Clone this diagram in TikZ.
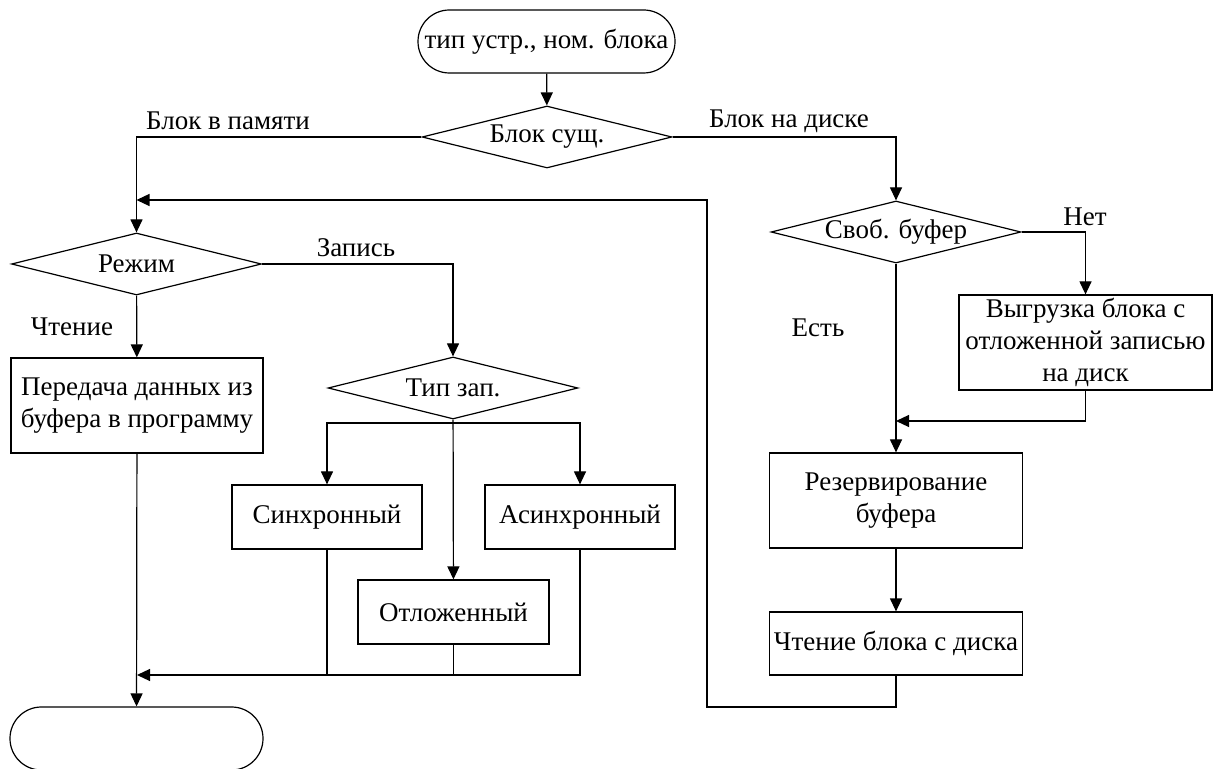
\documentclass[tikz,border=0pt]{standalone}
\usepackage{fontspec}
\setmainfont{Liberation Serif}
\newfontfamily\chartfont{Liberation Serif}
\usetikzlibrary{shapes.geometric,arrows.meta}
\begin{document}
\begin{tikzpicture}[x=0.5pt,y=-0.5pt,line width=0.6pt,
  every node/.style={font=\chartfont\fontsize{13.5}{16}\selectfont},
  term/.style={draw,rounded corners=15.7pt,minimum height=31.5pt,inner sep=0pt},
  cond/.style={draw,diamond,aspect=4,inner sep=0pt,minimum width=125pt,minimum height=31pt},
  proc/.style={draw,rectangle,align=center,inner sep=0pt},
  arr/.style={-{Triangle[length=6.5pt,width=6pt]}}]
\useasboundingbox (0,0) rectangle (1214,769);
% terminals
\node[term,minimum width=128.5pt] (start) at (546.5,41.5) {тип устр., ном. блока};
\node[term,minimum width=126.5pt] (stop) at (136.5,738.5) {};
% decisions
\node[cond] (exist) at (547,137) {Блок сущ.};
\node[cond] (mode) at (136.5,264) {Режим};
\node[cond] (wtype) at (453,388) {Тип зап.};
\node[cond] (free) at (896,232) {Своб. буфер};
% actions
\node[proc,minimum width=126pt,minimum height=47.5pt] (send) at (137,405.5) {Передача данных из\\буфера в программу};
\node[proc,minimum width=95pt,minimum height=32pt] (sync) at (327,517) {Синхронный};
\node[proc,minimum width=95pt,minimum height=32pt] (async) at (580,517) {Асинхронный};
\node[proc,minimum width=95.5pt,minimum height=32pt] (defer) at (453.5,612) {Отложенный};
\node[proc,minimum width=126.5pt,minimum height=47.5pt] (unload) at (1085.5,342.5) {Выгрузка блока с\\отложенной записью\\на диск};
\node[proc,minimum width=126.5pt,minimum height=47.5pt] (reserve) at (896,500.5) {Резервирование\\буфера};
\node[proc,minimum width=126.5pt,minimum height=31.5pt] (readblk) at (896,643.5) {Чтение блока с диска};
% branch labels
\node (lmem) at (228,121) {Блок в памяти};
\node (ldisk) at (789,121) {Блок на диске};
\node (lwrite) at (356,248) {Запись};
\node (lread) at (72,327) {Чтение};
\node (lno) at (1085,217) {Нет};
\node (lyes) at (818,328) {Есть};
% junctions
\coordinate (tsplit) at (453,423);
\coordinate (merge) at (137,675);
\coordinate (rjoin) at (896,421);
\coordinate (loopb) at (707,707);
\coordinate (loopt) at (707,200);
% connectors
\draw[arr] (start) -- (exist);
\draw[arr] (exist.west) -| (mode.north);
\draw[arr] (exist.east) -| (free.north);
\draw[arr] (mode.east) -| (wtype.north);
\draw[arr] (mode) -- (send);
\draw[arr] (send) -- (stop);
\draw[arr] (wtype) -- (defer);
\draw[arr] (tsplit) -| (sync.north);
\draw[arr] (tsplit) -| (async.north);
\draw (sync.south) -- (sync.south |- merge);
\draw (defer.south) -- (defer.south |- merge);
\draw[arr] (async.south) |- (merge);
\draw[arr] (free.east) -| (unload.north);
\draw[arr] (free) -- (reserve);
\draw[arr] (unload.south) |- (rjoin);
\draw[arr] (reserve) -- (readblk);
\draw[arr] (readblk.south) |- (loopb) |- (mode.north |- loopt);
\end{tikzpicture}
\end{document}
